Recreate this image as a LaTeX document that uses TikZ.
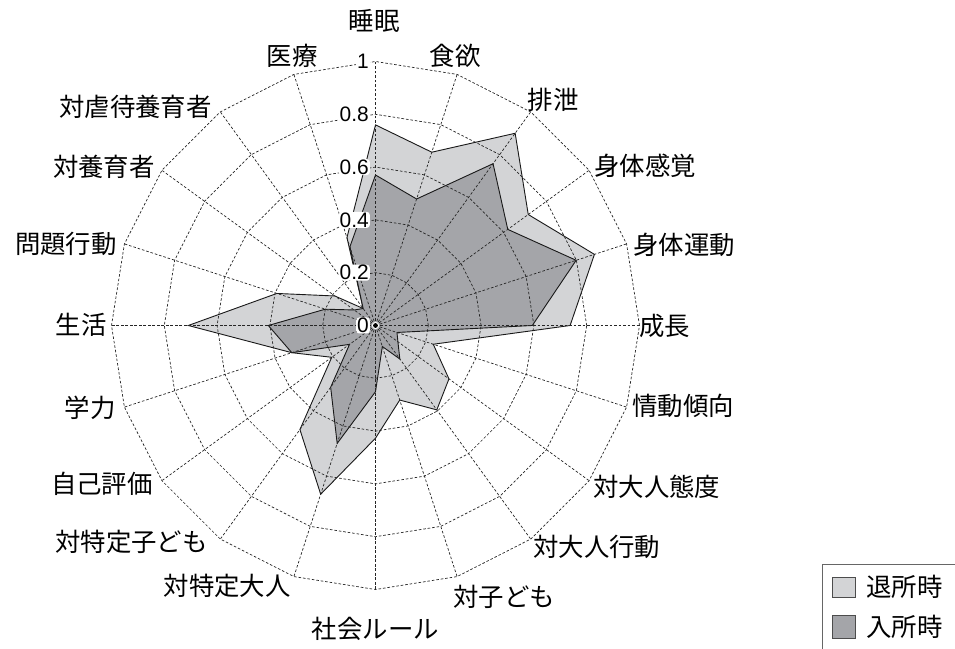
\documentclass[tikz,border=0pt]{standalone}
\usepackage{fontspec}
\setmainfont{Liberation Sans}
\newfontfamily\jpfont{Noto Sans CJK JP}
\definecolor{lightfill}{RGB}{211,212,214}
\definecolor{darkfill}{RGB}{164,165,169}
\tikzset{
  gridline/.style={draw=black!85, line width=0.7bp, dash pattern=on 2.6bp off 1.9bp},
  lightpoly/.style={fill=lightfill, draw=black!90, line width=0.9bp, line join=miter},
  darkpoly/.style={fill=darkfill, draw=black!90, line width=0.9bp, line join=miter},
  axlab/.style={inner sep=0pt, font=\jpfont\fontsize{25.5}{30}\selectfont},
  ticktext/.style={inner xsep=1bp, inner ysep=0.6bp, fill=white, rounded corners=3bp, font=\fontsize{21}{24}\selectfont},
  legswatch/.style={draw=black!70, line width=0.8bp},
}
\begin{document}
\begin{tikzpicture}[x=1bp,y=1bp]
\useasboundingbox (0,0) rectangle (955,649);
\begin{scope}[shift={(375.5,323.5)}]
  % 退所時 (light)
  \filldraw[lightpoly] (90:200.6) -- (72:182.2) -- (54:237.6) -- (36:188.8) -- (18:230.2)
    -- (0:194.6) -- (-18:60.7) -- (-36:90.8) -- (-54:104.3) -- (-72:78.4)
    -- (-90:112.7) -- (-108:177.4) -- (-126:128.6) -- (-144:54.1) -- (-162:88)
    -- (180:187.2) -- (162:103.7) -- (144:50.2) -- (126:21) -- (108:92.4) -- cycle;
  % 入所時 (dark)
  \filldraw[darkpoly] (90:150.5) -- (72:133) -- (54:200) -- (36:163.5) -- (18:211)
    -- (0:156.8) -- (-18:22.6) -- (-36:27.7) -- (-54:41.4) -- (-72:22.1)
    -- (-90:66.2) -- (-108:124) -- (-126:76.3) -- (-144:32.1) -- (-162:88)
    -- (180:107.2) -- (162:52.8) -- (144:26.4) -- (126:21) -- (108:82.8) -- cycle;
  % grid rings
  \foreach \r in {52.8,105.6,158.4,211.2,264}
    \draw[gridline] (0:\r) \foreach \k in {1,...,19}{ -- ({\k*18}:\r)} -- cycle;
  % spokes
  \foreach \k in {0,...,19}
    \draw[gridline] (0,0) -- ({\k*18}:264);
  \fill[white] (0,0) circle (3.6bp);
  \fill[black] (0,0) circle (2.4bp);
\end{scope}
% radial tick labels
\node[ticktext,anchor=east] (t0) at (370,323.5) {0};
\node[ticktext,anchor=east] (t2) at (370,376.3) {0.2};
\node[ticktext,anchor=east] (t4) at (370,429.1) {0.4};
\node[ticktext,anchor=east] (t6) at (370,481.9) {0.6};
\node[ticktext,anchor=east] (t8) at (370,534.7) {0.8};
\node[ticktext,anchor=east] (t10) at (370,587.5) {1};
% axis labels
\node[axlab] (l0) at (374,628) {睡眠};
\node[axlab] (l1) at (455,593) {食欲};
\node[axlab] (l2) at (553,549) {排泄};
\node[axlab,anchor=west] (l3) at (594,483) {身体感覚};
\node[axlab,anchor=west] (l4) at (633,404) {身体運動};
\node[axlab,anchor=west] (l5) at (639,323) {成長};
\node[axlab,anchor=west] (l6) at (632,243) {情動傾向};
\node[axlab,anchor=west] (l7) at (593,162) {対大人態度};
\node[axlab,anchor=west] (l8) at (533,102) {対大人行動};
\node[axlab,anchor=west] (l9) at (453,52) {対子ども};
\node[axlab] (l10) at (375.5,20) {社会ルール};
\node[axlab,anchor=east] (l11) at (291,63) {対特定大人};
\node[axlab,anchor=east] (l12) at (208,107) {対特定子ども};
\node[axlab,anchor=east] (l13) at (153,165) {自己評価};
\node[axlab,anchor=east] (l14) at (116,241) {学力};
\node[axlab,anchor=east] (l15) at (107,324) {生活};
\node[axlab,anchor=east] (l16) at (117,405) {問題行動};
\node[axlab,anchor=east] (l17) at (155,482) {対養育者};
\node[axlab,anchor=east] (l18) at (212,542) {対虐待養育者};
\node[axlab] (l19) at (292,593) {医療};
% legend
\draw[black!60, line width=0.8bp] (822,0) -- (822,85) -- (955,85);
\filldraw[legswatch, fill=lightfill] (832,52) rectangle (855,72);
\filldraw[legswatch, fill=darkfill] (832,11) rectangle (855,34);
\node[axlab,anchor=west] (g1) at (866,62) {退所時};
\node[axlab,anchor=west] (g2) at (866,22) {入所時};
\end{tikzpicture}
\end{document}
